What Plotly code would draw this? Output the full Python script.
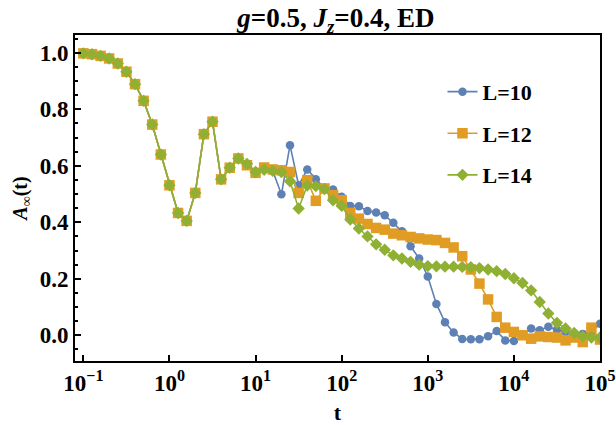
import plotly.graph_objects as go

# time grid (log spaced, 0.1 decade steps from 1e-1 to 1e5)
t = [0.1, 0.1259, 0.1585, 0.1995, 0.2512, 0.3162, 0.3981, 0.5012, 0.631, 0.7943,
     1.0, 1.259, 1.585, 1.995, 2.512, 3.162, 3.981, 5.012, 6.31, 7.943,
     10.0, 12.59, 15.85, 19.95, 25.12, 31.62, 39.81, 50.12, 63.1, 79.43,
     100.0, 125.9, 158.5, 199.5, 251.2, 316.2, 398.1, 501.2, 631.0, 794.3,
     1000.0, 1259.0, 1585.0, 1995.0, 2512.0, 3162.0, 3981.0, 5012.0, 6310.0, 7943.0,
     10000.0, 12590.0, 15850.0, 19950.0, 25120.0, 31620.0, 39810.0, 50120.0, 63100.0, 79430.0,
     100000.0]

a_L10 = [0.998, 0.995, 0.989, 0.980, 0.962, 0.933, 0.889, 0.830, 0.746, 0.640,
         0.531, 0.433, 0.405, 0.504, 0.712, 0.756, 0.552, 0.593, 0.626, 0.605,
         0.578, 0.587, 0.582, 0.499, 0.673, 0.531, 0.587, 0.552, 0.520, 0.516,
         0.490, 0.458, 0.457, 0.440, 0.435, 0.425, 0.398, 0.368, 0.315, 0.272,
         0.208, 0.111, 0.046, 0.010, -0.013, -0.014, -0.014, -0.003, 0.015, -0.018,
         -0.020, 0.000, 0.024, 0.018, 0.030, 0.020, 0.012, 0.000, 0.005, 0.012,
         0.041]

a_L12 = [0.998, 0.995, 0.989, 0.980, 0.962, 0.933, 0.889, 0.830, 0.746, 0.640,
         0.531, 0.433, 0.405, 0.504, 0.712, 0.756, 0.552, 0.593, 0.626, 0.602,
         0.575, 0.594, 0.587, 0.584, 0.578, 0.504, 0.549, 0.476, 0.520, 0.496,
         0.478, 0.433, 0.413, 0.394, 0.380, 0.374, 0.360, 0.354, 0.348, 0.343,
         0.339, 0.337, 0.327, 0.311, 0.280, 0.233, 0.183, 0.127, 0.065, 0.027,
         0.012, 0.000, -0.012, -0.004, -0.006, -0.008, -0.018, -0.008, -0.024, 0.027,
         -0.015]

a_L14 = [0.998, 0.995, 0.989, 0.980, 0.962, 0.933, 0.889, 0.830, 0.746, 0.640,
         0.531, 0.433, 0.405, 0.504, 0.712, 0.756, 0.552, 0.593, 0.626, 0.607,
         0.578, 0.586, 0.582, 0.578, 0.545, 0.449, 0.530, 0.528, 0.518, 0.478,
         0.458, 0.410, 0.378, 0.350, 0.322, 0.303, 0.283, 0.272, 0.260, 0.250,
         0.245, 0.244, 0.243, 0.243, 0.242, 0.241, 0.238, 0.233, 0.227, 0.217,
         0.202, 0.185, 0.159, 0.118, 0.077, 0.044, 0.024, 0.008, -0.004, -0.008,
         -0.008]

names = ["L=10", "L=12", "L=14"]
colors = ["#5E81B5", "#E19C24", "#8FB032"]
symbols = ["circle", "square", "diamond"]
sizes = [8.5, 10.5, 9.5]

x_tickvals = [0.1, 1, 10, 100, 1000, 10000, 100000]
x_ticktext = ["10<sup>\u22121</sup>", "10<sup>0</sup>", "10<sup>1</sup>", "10<sup>2</sup>",
              "10<sup>3</sup>", "10<sup>4</sup>", "10<sup>5</sup>"]
y_tickvals = [0.0, 0.2, 0.4, 0.6, 0.8, 1.0]
y_ticktext = ["0.0", "0.2", "0.4", "0.6", "0.8", "1.0"]

FONT = "Liberation Serif, Times New Roman, serif"
BIG = dict(family=FONT, size=23, weight="bold", color="black")

fig = go.Figure()
for name, ys, c, s, sz in zip(names, [a_L10, a_L12, a_L14], colors, symbols, sizes):
    fig.add_trace(go.Scatter(
        x=t, y=ys, mode="lines+markers", name=name, legendgroup=name,
        line=dict(color=c, width=1.6),
        marker=dict(symbol=s, size=sz, color=c, line=dict(width=0)),
    ))

fig.update_layout(
    width=616, height=425,
    margin=dict(l=75, r=16, t=35, b=64),
    paper_bgcolor="white", plot_bgcolor="white",
    font=dict(family=FONT, color="black"),
    title=dict(text="<i>g</i>=0.5, <i>J</i><sub><i>z</i></sub>=0.4, ED",
               x=0.497, xref="paper", xanchor="center", y=0.958, yref="container",
               yanchor="middle", automargin=False,
               font=dict(family=FONT, size=27, weight="bold", color="black")),
    showlegend=True,
    legend=dict(x=0.70, y=0.89, xanchor="left", yanchor="top",
                bgcolor="rgba(0,0,0,0)", borderwidth=0,
                font=dict(family=FONT, size=22, weight="bold", color="black"),
                tracegroupgap=10, itemwidth=30),
)

fig.update_xaxes(
    type="log", range=[-1.097, 5.0], automargin=False,
    tickvals=x_tickvals, ticktext=x_ticktext,
    tickfont=BIG,
    ticks="inside", ticklen=6, tickwidth=2, tickcolor="black",
    showline=True, linewidth=2, linecolor="black", mirror=True,
    showgrid=False, zeroline=False,
    title=dict(text="t", font=dict(family=FONT, size=22, weight="bold", color="black"),
               standoff=12),
)
fig.update_yaxes(
    range=[-0.091, 1.063], automargin=False,
    tickvals=y_tickvals, ticktext=y_ticktext,
    tickfont=BIG,
    ticks="inside", ticklen=6, tickwidth=2, tickcolor="black",
    minor=dict(dtick=0.05, tick0=0, ticks="inside", ticklen=3, tickwidth=1.5, tickcolor="black"),
    showline=True, linewidth=2, linecolor="black", mirror=True,
    showgrid=False, zeroline=False,
    title=dict(text="<i>A</i><sub>\u221e</sub>(t)",
               font=dict(family=FONT, size=20, weight="bold", color="black"),
               standoff=7),
)

fig.write_html("out.html", config={"displayModeBar": False},
               post_script="document.body.style.margin='0';document.body.style.overflow='hidden';")
